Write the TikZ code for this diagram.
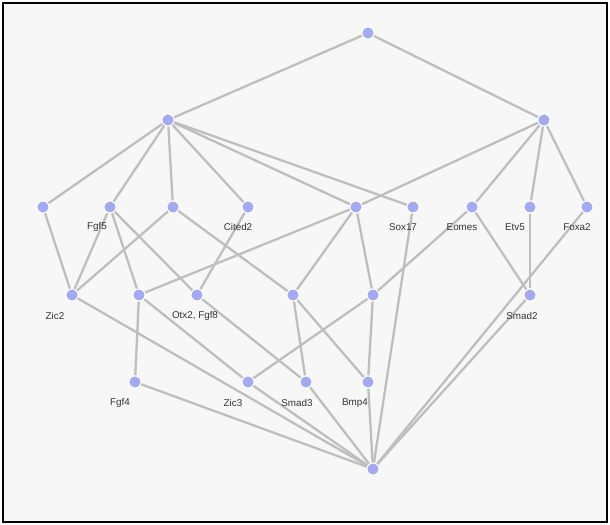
\documentclass[tikz,border=0pt]{standalone}
\usepackage{fontspec}
\setmainfont{Liberation Sans}
\usetikzlibrary{calc, backgrounds}
\definecolor{nodeblue}{HTML}{A3A9F2}
\definecolor{edgegray}{HTML}{BEBEBE}
\definecolor{bggray}{HTML}{F7F7F7}

\begin{document}
\begin{tikzpicture}[x=0.02cm, y=-0.02cm,
    concept/.style={circle, fill=nodeblue, draw=white, line width=0.6pt, inner sep=0pt, minimum size=0.24cm},
    edge/.style={draw=edgegray, line width=1.3pt},
    lbl/.style={font=\fontsize{5.6}{6}\selectfont, text=black!80, inner sep=0pt}]

    \useasboundingbox (0,0) rectangle (610,525);

    % concepts
    \node[concept] (top) at (368,33) {};
    \node[concept] (hl) at (168,120) {};
    \node[concept] (hr) at (544,120) {};

    \node[concept] (pa) at (43,207) {};
    \node[concept] (fgf5) at (110,207) {};
    \node[concept] (pc) at (173,207) {};
    \node[concept] (cited2) at (248,207) {};
    \node[concept] (pe) at (356,207) {};
    \node[concept] (sox17) at (413,207) {};
    \node[concept] (eomes) at (472,207) {};
    \node[concept] (etv5) at (530,207) {};
    \node[concept] (foxa2) at (587,207) {};

    \node[concept] (zic2) at (72,295) {};
    \node[concept] (qb) at (139,295) {};
    \node[concept] (otx2) at (197,295) {};
    \node[concept] (qd) at (293,295) {};
    \node[concept] (qg) at (373,295) {};
    \node[concept] (smad2) at (530,295) {};

    \node[concept] (fgf4) at (135,382) {};
    \node[concept] (zic3) at (248,382) {};
    \node[concept] (smad3) at (306,382) {};
    \node[concept] (bmp4) at (368,382) {};

    \node[concept] (bot) at (373,469) {};

    % labels
    \node[lbl] (lfgf5) at ($(fgf5)+(-13,20)$) {Fgf5};
    \node[lbl] (lcited2) at ($(cited2)+(-10,20)$) {Cited2};
    \node[lbl] (lsox17) at ($(sox17)+(-10,20)$) {Sox17};
    \node[lbl] (leomes) at ($(eomes)+(-10,20)$) {Eomes};
    \node[lbl] (letv5) at ($(etv5)+(-15,20)$) {Etv5};
    \node[lbl] (lfoxa2) at ($(foxa2)+(-10,20)$) {Foxa2};
    \node[lbl] (lzic2) at ($(zic2)+(-17,21)$) {Zic2};
    \node[lbl] (lotx2) at ($(otx2)+(-2,21)$) {Otx2, Fgf8};
    \node[lbl] (lsmad2) at ($(smad2)+(-8,21)$) {Smad2};
    \node[lbl] (lfgf4) at ($(fgf4)+(-15,21)$) {Fgf4};
    \node[lbl] (lzic3) at ($(zic3)+(-15,21)$) {Zic3};
    \node[lbl] (lsmad3) at ($(smad3)+(-9,21)$) {Smad3};
    \node[lbl] (lbmp4) at ($(bmp4)+(-13,21)$) {Bmp4};

    % covering edges
    \begin{scope}[on background layer]
    \draw[line width=1.3pt, fill=bggray] (3,3) rectangle (607,522);

    \draw[edge] (top) -- (hl);
    \draw[edge] (top) -- (hr);

    \draw[edge] (hl) -- (pa);
    \draw[edge] (hl) -- (fgf5);
    \draw[edge] (hl) -- (pc);
    \draw[edge] (hl) -- (cited2);
    \draw[edge] (hl) -- (pe);
    \draw[edge] (hl) -- (sox17);
    \draw[edge] (hr) -- (pe);
    \draw[edge] (hr) -- (eomes);
    \draw[edge] (hr) -- (etv5);
    \draw[edge] (hr) -- (foxa2);

    \draw[edge] (pa) -- (zic2);
    \draw[edge] (fgf5) -- (zic2);
    \draw[edge] (fgf5) -- (qb);
    \draw[edge] (fgf5) -- (otx2);
    \draw[edge] (pc) -- (zic2);
    \draw[edge] (pc) -- (qd);
    \draw[edge] (cited2) -- (otx2);
    \draw[edge] (pe) -- (qb);
    \draw[edge] (pe) -- (qd);
    \draw[edge] (pe) -- (qg);
    \draw[edge] (sox17) -- (bot);
    \draw[edge] (eomes) -- (qg);
    \draw[edge] (eomes) -- (smad2);
    \draw[edge] (etv5) -- (smad2);
    \draw[edge] (foxa2) -- (bot);

    \draw[edge] (zic2) -- (bot);
    \draw[edge] (qb) -- (fgf4);
    \draw[edge] (qb) -- (zic3);
    \draw[edge] (otx2) -- (smad3);
    \draw[edge] (qd) -- (smad3);
    \draw[edge] (qd) -- (bmp4);
    \draw[edge] (qg) -- (zic3);
    \draw[edge] (qg) -- (bmp4);
    \draw[edge] (smad2) -- (bot);

    \draw[edge] (fgf4) -- (bot);
    \draw[edge] (zic3) -- (bot);
    \draw[edge] (smad3) -- (bot);
    \draw[edge] (bmp4) -- (bot);
    \end{scope}
\end{tikzpicture}
\end{document}
